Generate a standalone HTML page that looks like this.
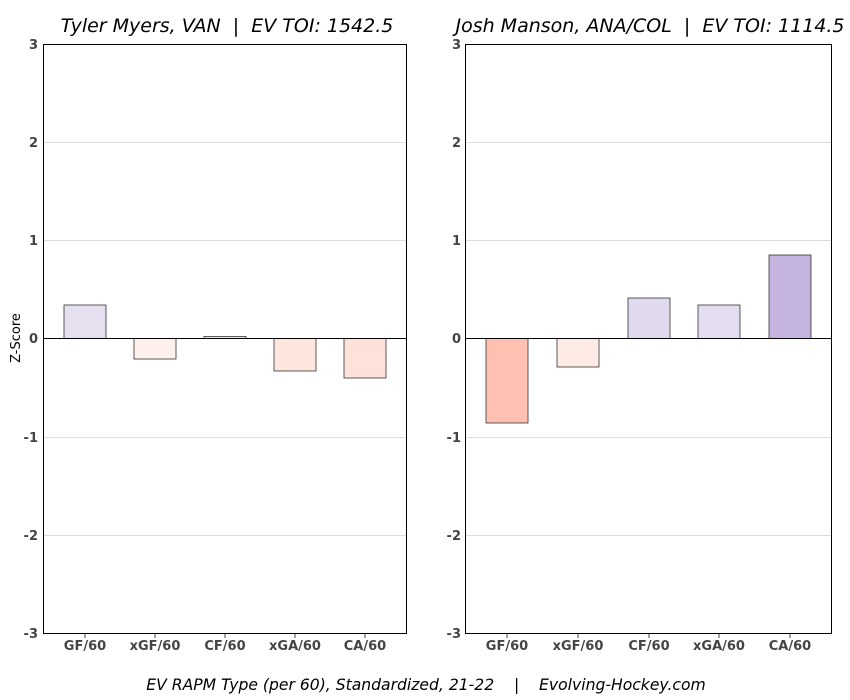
<!DOCTYPE html>
<html><head><meta charset="utf-8"><style>
html,body{margin:0;padding:0;background:#fff}
svg{display:block}
text{font-family:"DejaVu Sans","Liberation Sans",sans-serif}
.t{font-size:13px;font-weight:bold;fill:#444}
.ti{font-size:19px;font-style:italic;fill:#000}
</style></head><body>
<svg width="850" height="700" viewBox="0 0 850 700">
<rect width="850" height="700" fill="#fff"/>
<g stroke="#dcdcdc" stroke-width="1">
<line x1="43" x2="407" y1="142.5" y2="142.5"/><line x1="43" x2="407" y1="240.5" y2="240.5"/>
<line x1="43" x2="407" y1="437.5" y2="437.5"/><line x1="43" x2="407" y1="535.5" y2="535.5"/>
<line x1="465" x2="832" y1="142.5" y2="142.5"/><line x1="465" x2="832" y1="240.5" y2="240.5"/>
<line x1="465" x2="832" y1="437.5" y2="437.5"/><line x1="465" x2="832" y1="535.5" y2="535.5"/>
</g>
<g stroke="#333" stroke-width="0.8">
<rect x="64" y="305" width="42" height="33.5" fill="#e6dff0"/>
<rect x="134" y="338.5" width="42" height="20.5" fill="#fff0ec"/>
<rect x="204" y="336.5" width="42" height="2" fill="#ece6f2"/>
<rect x="274" y="338.5" width="42" height="32.5" fill="#fee6de"/>
<rect x="344" y="338.5" width="42" height="39.5" fill="#fee1d8"/>
<rect x="486" y="338.5" width="42" height="84.5" fill="#fec0b0"/>
<rect x="557" y="338.5" width="42" height="28.5" fill="#feeae4"/>
<rect x="628" y="298" width="42" height="40.5" fill="#e1d9ee"/>
<rect x="698" y="305" width="42" height="33.5" fill="#e4dcf0"/>
<rect x="769" y="255" width="42" height="83.5" fill="#c5b4df"/>
</g>
<g stroke="#000" stroke-width="1" fill="none">
<rect x="43.5" y="44.5" width="363" height="589"/>
<rect x="465.5" y="44.5" width="366" height="589"/>
<line x1="43" x2="407" y1="338.5" y2="338.5"/>
<line x1="465" x2="832" y1="338.5" y2="338.5"/>
</g>
<g stroke="#444" stroke-width="1">
<line x1="85" x2="85" y1="634" y2="638"/><line x1="155" x2="155" y1="634" y2="638"/><line x1="225" x2="225" y1="634" y2="638"/><line x1="295" x2="295" y1="634" y2="638"/><line x1="365" x2="365" y1="634" y2="638"/>
<line x1="507" x2="507" y1="634" y2="638"/><line x1="578" x2="578" y1="634" y2="638"/><line x1="649" x2="649" y1="634" y2="638"/><line x1="719" x2="719" y1="634" y2="638"/><line x1="790" x2="790" y1="634" y2="638"/>
</g>
<g class="t" text-anchor="end">
<text x="38" y="49">3</text><text x="38" y="147">2</text><text x="38" y="245">1</text><text x="38" y="343">0</text><text x="38" y="442">-1</text><text x="38" y="540">-2</text><text x="38" y="638">-3</text>
<text x="461" y="49">3</text><text x="461" y="147">2</text><text x="461" y="245">1</text><text x="461" y="343">0</text><text x="461" y="442">-1</text><text x="461" y="540">-2</text><text x="461" y="638">-3</text>
</g>
<g class="t" text-anchor="middle">
<text x="85" y="650">GF/60</text><text x="155" y="650">xGF/60</text><text x="225" y="650">CF/60</text><text x="295" y="650">xGA/60</text><text x="365" y="650">CA/60</text>
<text x="507" y="650">GF/60</text><text x="578" y="650">xGF/60</text><text x="649" y="650">CF/60</text><text x="719" y="650">xGA/60</text><text x="790" y="650">CA/60</text>
</g>
<text x="20" y="338" font-size="13" text-anchor="middle" transform="rotate(-90 20 338)">Z-Score</text>
<text x="227" y="32" class="ti" text-anchor="middle" xml:space="preserve">Tyler Myers, VAN  |  EV TOI: 1542.5</text>
<text x="650" y="32" class="ti" text-anchor="middle" xml:space="preserve">Josh Manson, ANA/COL  |  EV TOI: 1114.5</text>
<text x="426" y="690" font-size="15.6" font-style="italic" text-anchor="middle" xml:space="preserve">EV RAPM Type (per 60), Standardized, 21-22    |    Evolving-Hockey.com</text>
</svg>
</body></html>
